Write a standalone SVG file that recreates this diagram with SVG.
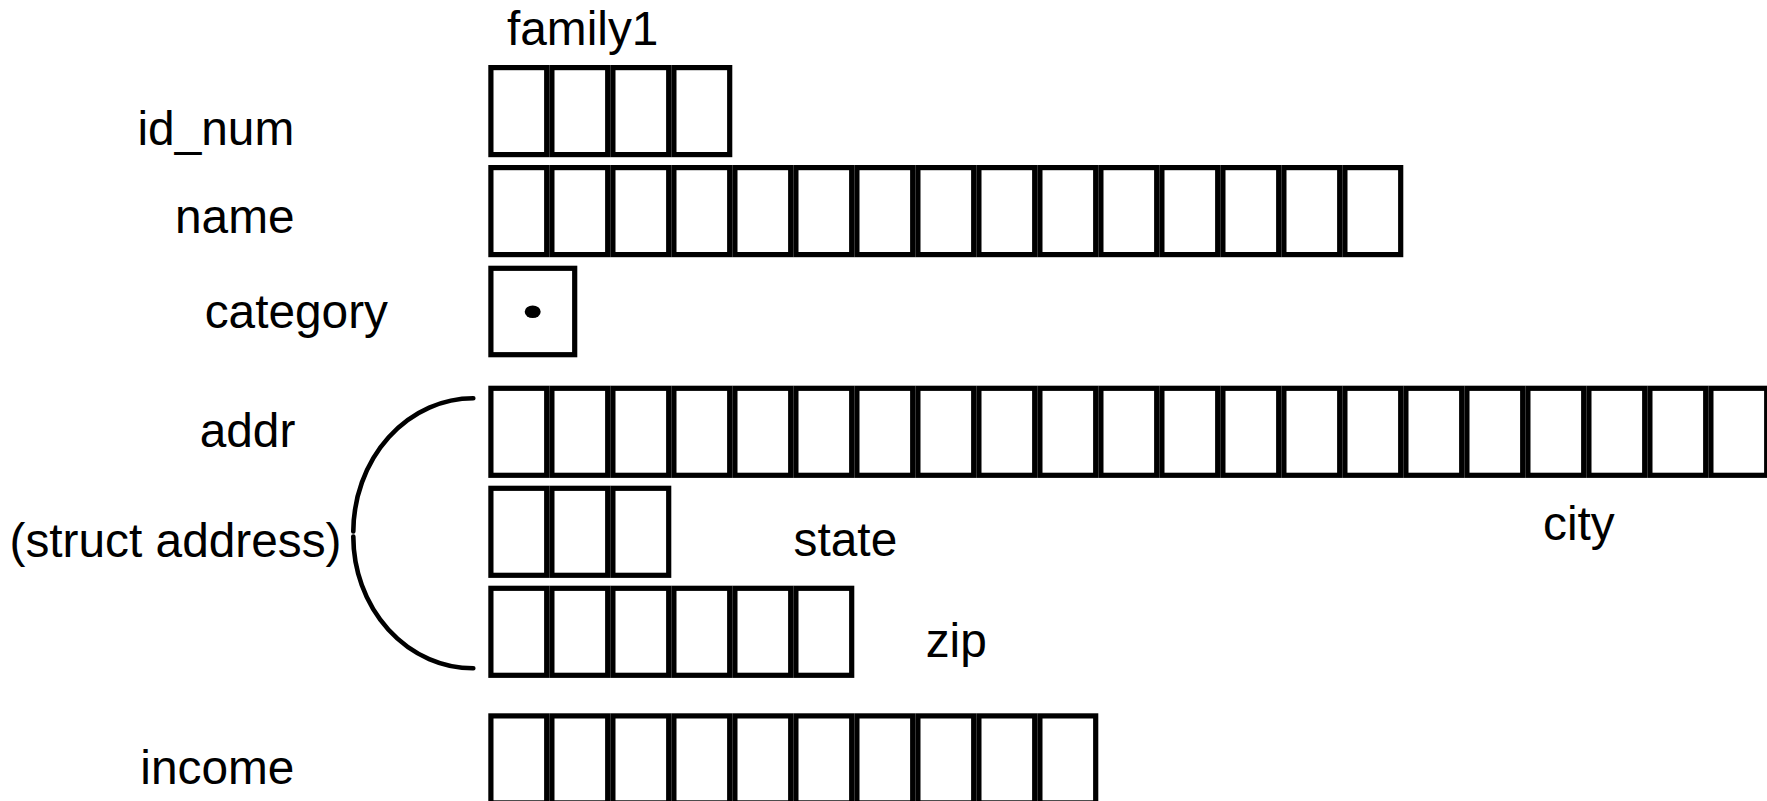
<svg xmlns="http://www.w3.org/2000/svg" xmlns:xlink="http://www.w3.org/1999/xlink" width="1767" height="801" viewBox="0 0 1767 801">
<style>
.cell{fill:#fff;stroke:#000;stroke-width:5.2}
.lbl{font-family:"Liberation Sans",Arial,sans-serif;font-size:47.8px;fill:#000}
.br{fill:none;stroke:#000;stroke-width:4.6;stroke-linecap:round}
</style>
<defs>
<rect id="c" class="cell" x="2.6" y="2.6" width="55.8" height="87"/>
</defs>
<rect width="1767" height="801" fill="#fff"/>
<g id="title"><text class="lbl" x="507" y="45">family1</text></g>
<g id="id_num">
<text class="lbl" x="137.5" y="145">id_num</text>
<use xlink:href="#c" x="488.3" y="65"/><use xlink:href="#c" x="549.3" y="65"/><use xlink:href="#c" x="610.3" y="65"/><use xlink:href="#c" x="671.3" y="65"/>
</g>
<g id="name">
<text class="lbl" x="175" y="232.7">name</text>
<use xlink:href="#c" x="488.3" y="165"/><use xlink:href="#c" x="549.3" y="165"/><use xlink:href="#c" x="610.3" y="165"/><use xlink:href="#c" x="671.3" y="165"/><use xlink:href="#c" x="732.3" y="165"/><use xlink:href="#c" x="793.3" y="165"/><use xlink:href="#c" x="854.3" y="165"/><use xlink:href="#c" x="915.3" y="165"/><use xlink:href="#c" x="976.3" y="165"/><use xlink:href="#c" x="1037.3" y="165"/><use xlink:href="#c" x="1098.3" y="165"/><use xlink:href="#c" x="1159.3" y="165"/><use xlink:href="#c" x="1220.3" y="165"/><use xlink:href="#c" x="1281.3" y="165"/><use xlink:href="#c" x="1342.3" y="165"/>
</g>
<g id="category">
<text class="lbl" x="204.7" y="328.3">category</text>
<rect class="cell" x="490.9" y="268.3" width="83.8" height="86.4"/>
<ellipse cx="532.7" cy="311.7" rx="8" ry="6.3" fill="#000"/>
</g>
<g id="addr">
<text class="lbl" x="199.7" y="446.7">addr</text>
<text class="lbl" x="9.5" y="556.7">(struct address)</text>
</g>
<g id="city">
<text class="lbl" x="1543" y="540">city</text>
<use xlink:href="#c" x="488.3" y="385.7"/><use xlink:href="#c" x="549.3" y="385.7"/><use xlink:href="#c" x="610.3" y="385.7"/><use xlink:href="#c" x="671.3" y="385.7"/><use xlink:href="#c" x="732.3" y="385.7"/><use xlink:href="#c" x="793.3" y="385.7"/><use xlink:href="#c" x="854.3" y="385.7"/><use xlink:href="#c" x="915.3" y="385.7"/><use xlink:href="#c" x="976.3" y="385.7"/><use xlink:href="#c" x="1037.3" y="385.7"/><use xlink:href="#c" x="1098.3" y="385.7"/><use xlink:href="#c" x="1159.3" y="385.7"/><use xlink:href="#c" x="1220.3" y="385.7"/><use xlink:href="#c" x="1281.3" y="385.7"/><use xlink:href="#c" x="1342.3" y="385.7"/><use xlink:href="#c" x="1403.3" y="385.7"/><use xlink:href="#c" x="1464.3" y="385.7"/><use xlink:href="#c" x="1525.3" y="385.7"/><use xlink:href="#c" x="1586.3" y="385.7"/><use xlink:href="#c" x="1647.3" y="385.7"/><use xlink:href="#c" x="1708.3" y="385.7"/>
</g>
<g id="state">
<text class="lbl" x="793.6" y="556">state</text>
<use xlink:href="#c" x="488.3" y="485.7"/><use xlink:href="#c" x="549.3" y="485.7"/><use xlink:href="#c" x="610.3" y="485.7"/>
</g>
<g id="zip">
<text class="lbl" x="925.7" y="656.7">zip</text>
<use xlink:href="#c" x="488.3" y="585.7"/><use xlink:href="#c" x="549.3" y="585.7"/><use xlink:href="#c" x="610.3" y="585.7"/><use xlink:href="#c" x="671.3" y="585.7"/><use xlink:href="#c" x="732.3" y="585.7"/><use xlink:href="#c" x="793.3" y="585.7"/>
</g>
<g id="income">
<text class="lbl" x="140.3" y="784">income</text>
<use xlink:href="#c" x="488.3" y="713.3"/><use xlink:href="#c" x="549.3" y="713.3"/><use xlink:href="#c" x="610.3" y="713.3"/><use xlink:href="#c" x="671.3" y="713.3"/><use xlink:href="#c" x="732.3" y="713.3"/><use xlink:href="#c" x="793.3" y="713.3"/><use xlink:href="#c" x="854.3" y="713.3"/><use xlink:href="#c" x="915.3" y="713.3"/><use xlink:href="#c" x="976.3" y="713.3"/><use xlink:href="#c" x="1037.3" y="713.3"/>
</g>
<g id="connectors">
<path class="br" d="M473.3,398.3 A120,134 0 0 0 353.3,531.5"/>
<path class="br" d="M353.3,536.5 A120,132 0 0 0 473.3,668.3"/>
</g>
</svg>
